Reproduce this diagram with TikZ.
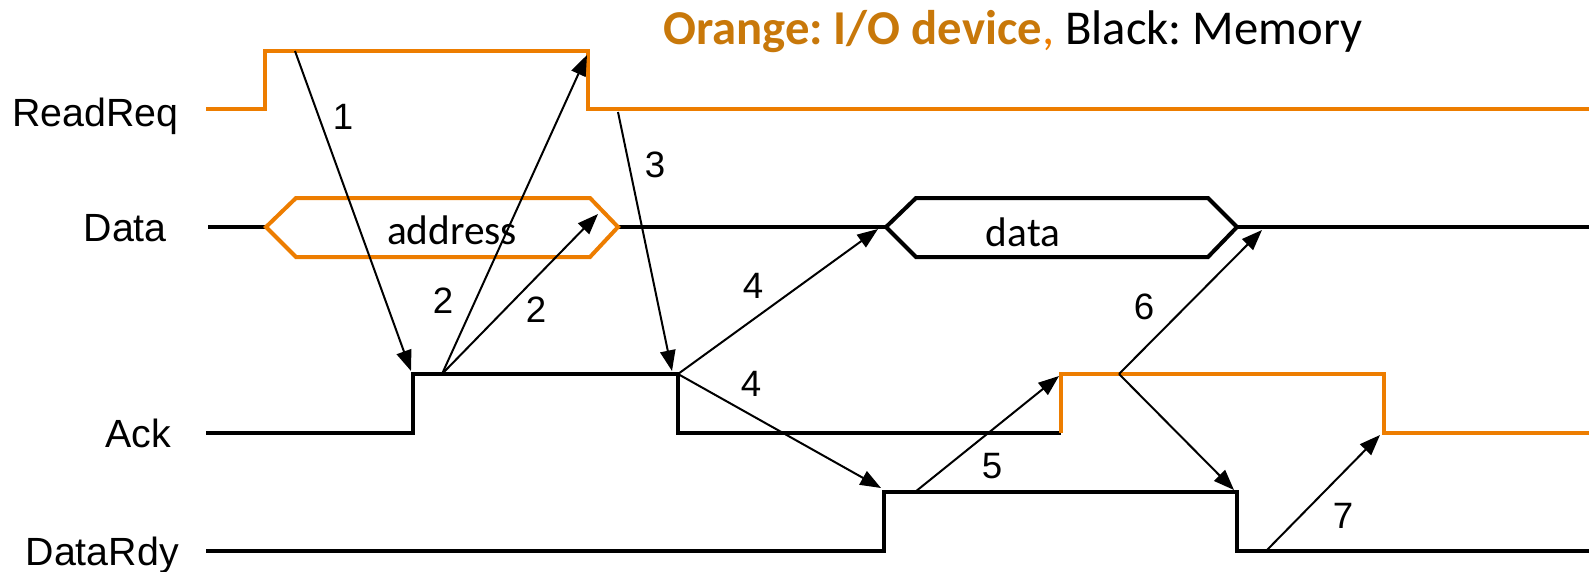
\documentclass[tikz,border=0pt]{standalone}
\usepackage{fontspec}
\setmainfont{Liberation Sans}
\newfontfamily\calfont{Carlito}
\usetikzlibrary{arrows.meta}
\definecolor{sigorange}{RGB}{237,125,0}
\definecolor{titleorange}{RGB}{200,120,10}
\frenchspacing
\begin{document}
\begin{tikzpicture}[x=0.75pt,y=-0.75pt,
  sig/.style={line width=3pt},
  io/.style={sig,draw=sigorange},
  mem/.style={sig,draw=black},
  evt/.style={line width=1.5pt,-{Triangle[length=15.5pt,width=11.5pt]}},
  num/.style={font=\fontsize{27.5}{30}\selectfont, inner sep=0pt},
  sname/.style={font=\fontsize{29.5}{32}\selectfont, anchor=base east, inner sep=0pt},
  hextext/.style={font=\calfont\fontsize{31}{34}\selectfont, inner sep=0pt}]
\useasboundingbox (0,0) rectangle (1595,571);
% title
\node[anchor=base west, inner sep=0pt, font=\calfont\fontsize{36.5}{40}\selectfont] (title) at (663,44)
  {\textcolor{titleorange}{\bfseries Orange: I/O device}\textcolor{sigorange}{,} Black: Memory};
% signal names
\node[sname] (nRR) at (179,126) {ReadReq};
\node[sname] (nD)  at (167,241) {Data};
\node[sname] (nA)  at (171,447) {Ack};
\node[sname] (nDR) at (179,565) {DataRdy};
% ReadReq
\coordinate (rrS) at (206,109);
\coordinate (rrR) at (265,109);
\coordinate (rrRh) at (265,51);
\coordinate (rrFh) at (588,51);
\coordinate (rrF) at (588,109);
\coordinate (rrE) at (1589,109);
\draw[io] (rrS) -- (rrR) -- (rrRh) -- (rrFh) -- (rrF) -- (rrE);
% Data
\coordinate (dS) at (208,227);
\coordinate (aL) at (266,227);
\coordinate (aR) at (618,227);
\coordinate (xL) at (886,227);
\coordinate (xR) at (1237,227);
\coordinate (dE) at (1589,227);
\draw[mem] (dS) -- (aL);
\draw[mem] (aR) -- (xL);
\draw[mem] (xR) -- (dE);
\draw[io] (aL) -- (296,198) -- (590,198) -- (aR) -- (590,257) -- (296,257) -- cycle;
\draw[mem] (xL) -- (916,198) -- (1208,198) -- (xR) -- (1208,257) -- (916,257) -- cycle;
\node[hextext] (addr) at (452,230) {address};
\node[hextext] (dat) at (1023,232) {data};
% Ack
\coordinate (akS) at (206,433);
\coordinate (akR) at (413,433);
\coordinate (akRh) at (413,374);
\coordinate (akFh) at (678,374);
\coordinate (akF) at (678,433);
\coordinate (akO) at (1061,433);
\coordinate (akOh) at (1061,374);
\coordinate (akOfh) at (1384,374);
\coordinate (akOf) at (1384,433);
\coordinate (akE) at (1589,433);
\draw[mem] (akS) -- (akR) -- (akRh) -- (akFh) -- (akF) -- (akO);
\draw[io] (akO) -- (akOh) -- (akOfh) -- (akOf) -- (akE);
% DataRdy
\coordinate (drS) at (206,551);
\coordinate (drR) at (884,551);
\coordinate (drRh) at (884,492);
\coordinate (drFh) at (1237,492);
\coordinate (drF) at (1237,551);
\coordinate (drE) at (1589,551);
\draw[mem] (drS) -- (drR) -- (drRh) -- (drFh) -- (drF) -- (drE);
% event arrows
\coordinate (s1) at (295,51);   \coordinate (t1) at (411,371);
\coordinate (s2) at (442,374);  \coordinate (t2a) at (587,55);  \coordinate (t2b) at (598,214);
\coordinate (s3) at (618,112);  \coordinate (t3) at (672,371);
\coordinate (t4a) at (878,229); \coordinate (t4b) at (881,488);
\coordinate (s5) at (915,492);  \coordinate (t5) at (1059,376);
\coordinate (s6) at (1119,374); \coordinate (t6a) at (1262,230); \coordinate (t6b) at (1234,490);
\coordinate (s7) at (1266,551); \coordinate (t7) at (1380,435);
\draw[evt] (s1) -- (t1);
\draw[evt] (s2) -- (t2a);
\draw[evt] (s2) -- (t2b);
\draw[evt] (s3) -- (t3);
\draw[evt] (akFh) -- (t4a);
\draw[evt] (akFh) -- (t4b);
\draw[evt] (s5) -- (t5);
\draw[evt] (s6) -- (t6a);
\draw[evt] (s6) -- (t6b);
\draw[evt] (s7) -- (t7);
% numbers
\node[num] (n1) at (343,117) {1};
\node[num] (n2a) at (443,301) {2};
\node[num] (n2b) at (536,310) {2};
\node[num] (n3) at (655,165) {3};
\node[num] (n4a) at (753,286) {4};
\node[num] (n4b) at (751,384) {4};
\node[num] (n5) at (992,466) {5};
\node[num] (n6) at (1144,307) {6};
\node[num] (n7) at (1343,516) {7};
\end{tikzpicture}
\end{document}
